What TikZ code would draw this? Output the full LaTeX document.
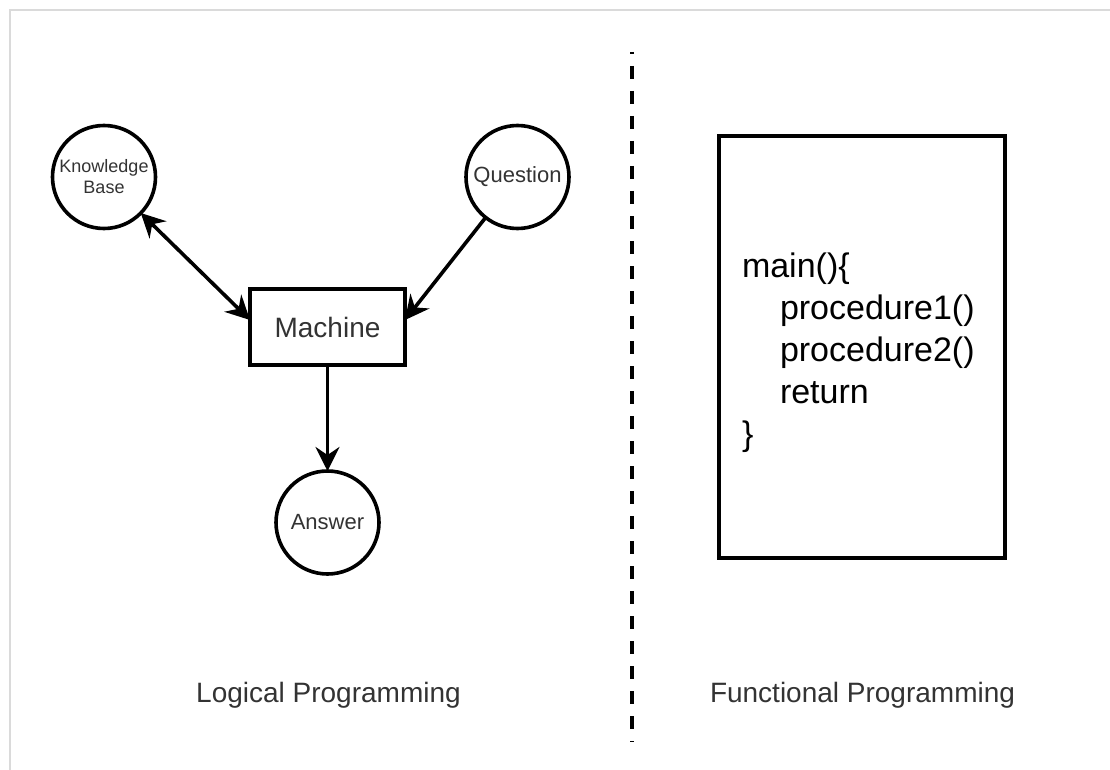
\documentclass[tikz,border=0pt]{standalone}
\usepackage{fontspec}
\setmainfont{Liberation Sans}
\usetikzlibrary{arrows.meta}
\definecolor{labelgray}{HTML}{333333}
\definecolor{framegray}{HTML}{DADADA}
\begin{document}
\begin{tikzpicture}[x=1pt,y=-1pt,
  every node/.style={inner sep=0pt, outer sep=0pt},
  circ/.style={circle, draw=black, line width=3.6pt, minimum size=103pt, text=labelgray, align=center},
  boxnode/.style={rectangle, draw=black, line width=3.6pt},
  lbl/.style={text=labelgray, font=\fontsize{28}{34}\selectfont},
  conn/.style={line width=3.6pt, -{Stealth[length=24pt,width=24pt,inset=8pt]}},
  bconn/.style={line width=3.6pt, {Stealth[length=24pt,width=24pt,inset=8pt]}-{Stealth[length=24pt,width=24pt,inset=8pt]}},
  sep/.style={line width=3.6pt, dash pattern=on 13pt off 12pt, dash phase=11pt}
]
\useasboundingbox (0,0) rectangle (1110,770);
\fill[white] (0,0) rectangle (1110,770);
% frame
\draw[framegray, line width=1.5pt] (10,770) -- (10,10) -- (1110,10);

% left diagram
\node[circ, font=\fontsize{18}{21}\selectfont] (kb) at (104,177) {Knowledge\\Base};
\node[circ, font=\fontsize{22}{26}\selectfont] (q) at (517.5,177) {Question};
\node[boxnode, minimum width=155pt, minimum height=76pt, text=labelgray, font=\fontsize{28}{34}\selectfont] (m) at (327.5,327) {Machine};
\node[circ, font=\fontsize{22}{26}\selectfont] (a) at (327.5,522.5) {Answer};

\draw[bconn] (kb) -- ([yshift=7pt]m.west);
\draw[conn] (q) -- ([yshift=7pt]m.east);
\draw[conn] (m.south) -- (a.north);

% separator
\coordinate (sepTop) at (632,52);
\coordinate (sepBot) at (632,742);
\draw[sep] (sepTop) -- (sepBot);

% right diagram
\node[boxnode, minimum width=286pt, minimum height=422pt] (code) at (862,347) {};
\node[anchor=base west, align=left, font=\fontsize{34}{42}\selectfont] (codetext) at (742,445)
  {main()\{\\\hspace*{38pt}procedure1()\\\hspace*{38pt}procedure2()\\\hspace*{38pt}return\\\}};

% captions
\node[lbl] (lp) at (328.5,695) {Logical Programming};
\node[lbl] (fp) at (862.5,695) {Functional Programming};
\end{tikzpicture}
\end{document}
